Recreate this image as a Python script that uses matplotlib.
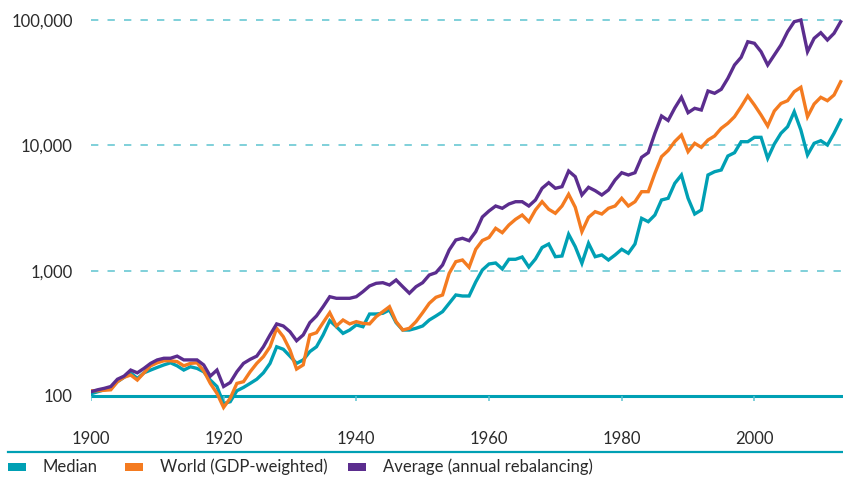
import matplotlib
matplotlib.use("Agg")
import matplotlib.pyplot as plt
from matplotlib.patches import Rectangle
from matplotlib.lines import Line2D

plt.rcParams['font.family'] = ['Lato', 'DejaVu Sans']

years = list(range(1900, 2014))

median = [104, 108, 112, 115, 130, 141, 153, 138, 153, 161,
          169, 177, 184, 174, 161, 171, 166, 156, 134, 119,
          87, 90, 110, 117, 126, 136, 153, 182, 247, 236,
          208, 182, 194, 226, 247, 307, 399, 357, 316, 336,
          369, 357, 451, 451, 457, 486, 385, 336, 336, 347,
          362, 404, 435, 471, 549, 640, 628, 628, 813, 1013,
          1131, 1152, 1032, 1233, 1233, 1286, 1070, 1240, 1531, 1633,
          1293, 1310, 1952, 1554, 1146, 1654, 1293, 1335, 1217, 1335,
          1482, 1377, 1633, 2618, 2460, 2782, 3666, 3783, 4983, 5804,
          3783, 2834, 3051, 5804, 6166, 6362, 8229, 8744, 10700, 10700,
          11600, 11600, 7888, 10260, 12490, 14100, 18580, 13270, 8382, 10390,
          10900, 10070, 12490, 15950]

world = [110, 110, 111, 112, 130, 141, 147, 134, 153, 174,
         184, 191, 191, 188, 174, 182, 184, 159, 126, 105,
         81, 96, 126, 130, 156, 182, 206, 247, 347, 297,
         233, 164, 177, 307, 320, 385, 462, 362, 404, 376,
         392, 380, 376, 430, 471, 516, 392, 336, 347, 392,
         462, 549, 613, 640, 953, 1180, 1217, 1064, 1482, 1742,
         1841, 2179, 2011, 2316, 2571, 2782, 2460, 3051, 3553, 3090,
         2871, 3283, 4071, 3206, 2048, 2667, 2958, 2834, 3148, 3283,
         3783, 3283, 3553, 4271, 4271, 5988, 8128, 9106, 10740, 12110,
         8907, 10390, 9656, 11040, 11890, 13690, 15010, 16940, 20360, 24800,
         21010, 17480, 14280, 18820, 21600, 22740, 26830, 29090, 16940, 21400,
         24200, 22740, 25260, 32240]

average = [108, 112, 115, 119, 136, 144, 161, 153, 166, 182,
           194, 200, 200, 208, 194, 194, 194, 177, 144, 161,
           119, 128, 156, 182, 196, 208, 247, 307, 376, 362,
           326, 276, 307, 385, 435, 516, 620, 602, 602, 602,
           620, 680, 755, 793, 802, 769, 843, 745, 661, 745,
           802, 924, 964, 1110, 1462, 1758, 1814, 1735, 2048, 2683,
           2996, 3283, 3148, 3406, 3553, 3553, 3283, 3666, 4546, 5039,
           4546, 4681, 6246, 5625, 4019, 4630, 4351, 4019, 4406, 5296,
           6053, 5804, 6053, 8036, 8744, 12492, 17168, 15800, 19890, 24200,
           18240, 19770, 19160, 27170, 26050, 28030, 34310, 43830, 50470, 67220,
           65290, 55970, 43830, 52670, 63290, 80800, 97100, 100200, 55970, 71550,
           79330, 69360, 78450, 97100]

series_names = ["Median", "World (GDP-weighted)", "Average (annual rebalancing)"]
y_ticks = [100, 1000, 10000, 100000]
y_labels = ["100", "1,000", "10,000", "100,000"]
x_ticks = [1900, 1920, 1940, 1960, 1980, 2000]
x_labels = ["1900", "1920", "1940", "1960", "1980", "2000"]

TEAL = "#00A0B4"
ORANGE = "#F47B20"
PURPLE = "#5B2D8E"
GRID = "#5CC3D0"
TEXT = "#2B2B2B"

fig = plt.figure(figsize=(8.43, 4.79), dpi=100)
ax = fig.add_axes([0.1078, 0.1357, 0.8922, 0.8351])
ax.set_yscale("log")
ax.set_ylim(71.8, 111900)
ax.set_xlim(1900, 2013.35)

for v in y_ticks[1:]:
    ax.axhline(v, color=GRID, lw=1.1, linestyle=(0, (4.8, 6)), zorder=1)
ax.axhline(100, color=TEAL, lw=2.2, zorder=1)
ax.vlines(x_ticks, 91, 100, color=GRID, lw=1.1, zorder=1)

ax.plot(years, median, color=TEAL, lw=2.4, zorder=3, solid_joinstyle="miter")
ax.plot(years, world, color=ORANGE, lw=2.4, zorder=4, solid_joinstyle="miter")
ax.plot(years, average, color=PURPLE, lw=2.4, zorder=5, solid_joinstyle="miter")

for s in ax.spines.values():
    s.set_visible(False)
ax.set_yticks(y_ticks)
ax.set_yticklabels(y_labels)
ax.yaxis.set_minor_locator(matplotlib.ticker.NullLocator())
ax.set_xticks(x_ticks)
ax.set_xticklabels(x_labels)
ax.tick_params(axis="y", length=0, pad=13, labelsize=12, labelcolor=TEXT)
ax.tick_params(axis="x", length=0, pad=12, labelsize=12, labelcolor=TEXT)

fig.add_artist(Line2D([0.0095, 1.0], [0.0564, 0.0564], color=TEAL, lw=1.6,
                      transform=fig.transFigure))

leg_colors = [TEAL, ORANGE, PURPLE]
leg_x = [8, 125, 348]
for name, c, x0 in zip(series_names, leg_colors, leg_x):
    fig.add_artist(Rectangle((x0 / 843, (479 - 471) / 479), 18 / 843, 8 / 479,
                             transform=fig.transFigure, color=c, lw=0))
    fig.text((x0 + 35) / 843, (479 - 467) / 479, name, fontsize=12,
             color=TEXT, va="center", ha="left")

fig.savefig("out.png", dpi=100)
